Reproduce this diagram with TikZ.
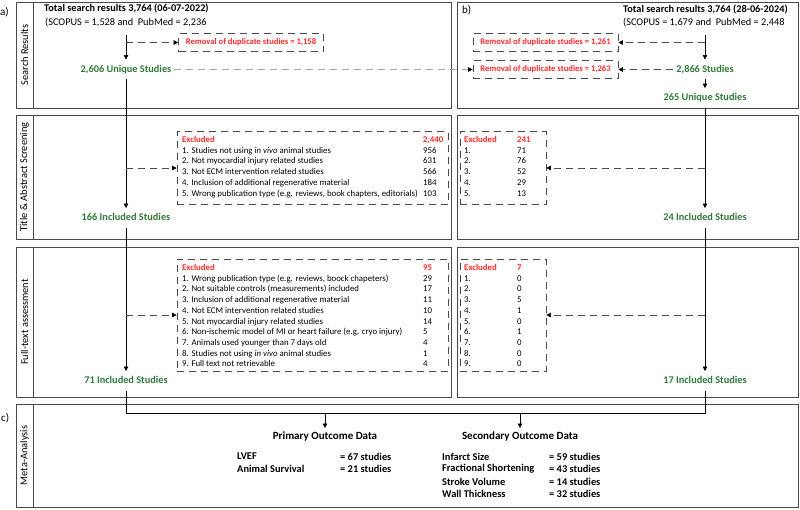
\documentclass[tikz,border=0pt]{standalone}
\usepackage{fontspec}
\setmainfont{Carlito}
\usetikzlibrary{arrows.meta}
\definecolor{grn}{HTML}{2F7A3A}
\definecolor{rd}{HTML}{FF2A2A}
\definecolor{frm}{HTML}{4A4A4A}
\begin{document}
\begin{tikzpicture}[x=1pt,y=-1pt,
 frame/.style={draw=frm, line width=0.8pt},
 lab/.style={rotate=90, font=\fontsize{10.4}{12}\selectfont, inner sep=0pt},
 pl/.style={anchor=west, font=\fontsize{11}{12}\selectfont, inner sep=0pt},
 hd/.style={anchor=west, font=\bfseries\fontsize{10.3}{12}\selectfont, inner sep=0pt},
 sub/.style={anchor=west, font=\fontsize{10.3}{12}\selectfont, inner sep=0pt},
 gn/.style={text=grn, font=\bfseries\fontsize{10.3}{12}\selectfont, text height=7.5pt, text depth=2pt, inner xsep=3pt, inner ysep=5pt},
 dup/.style={draw=frm, dash pattern=on 7pt off 5pt, line width=0.7pt, text=rd, font=\bfseries\fontsize{8.6}{10}\selectfont, minimum width=145pt, minimum height=18pt, inner sep=0pt},
 exbox/.style={draw=frm, dash pattern=on 7pt off 5pt, line width=0.7pt, inner sep=0pt},
 li/.style={anchor=west, font=\fontsize{8.8}{10}\selectfont, text height=6.5pt, text depth=2pt, inner sep=0pt},
 lr/.style={li, text=rd, font=\bfseries\fontsize{8.8}{10}\selectfont},
 conn/.style={-{Triangle[length=4.5pt,width=4.5pt,color=black]}, draw=black, line width=0.6pt},
 dconn/.style={conn, draw=frm, dash pattern=on 7pt off 5pt},
 flow/.style={draw=black, line width=0.6pt},
 ph/.style={font=\bfseries\fontsize{11}{12}\selectfont, text height=7.5pt, text depth=2pt, inner ysep=4pt},
 it/.style={anchor=west, font=\bfseries\fontsize{10.4}{12}\selectfont, inner sep=0pt}
]
\useasboundingbox (0,0) rectangle (800,509);
% frames
\draw[frame] (16,2) rectangle (451,108); \draw[frame] (33,2) -- (33,108);
\draw[frame] (16,115) rectangle (451,239); \draw[frame] (33,115) -- (33,239);
\draw[frame] (16,247) rectangle (451,397); \draw[frame] (33,247) -- (33,397);
\draw[frame] (16,404) rectangle (798,507); \draw[frame] (33,404) -- (33,507);
\draw[frame] (457,2) rectangle (798,108);
\draw[frame] (457,115) rectangle (798,239);
\draw[frame] (457,247) rectangle (798,397);
% row labels
\node[lab] (r1) at (24.5,55) {Search Results};
\node[lab] (r2) at (24.5,177) {Title \& Abstract Screening};
\node[lab] (r3) at (24.5,322) {Full-text assessment};
\node[lab] (r4) at (24.5,455.5) {Meta-Analysis};
\node[pl] (la) at (0,12) {a)};
\node[pl] (lb) at (462,10) {b)};
\node[pl] (lc) at (1,418) {c)};
% ---------- panel a ----------
\node[hd] (t1) at (44,8.5) {Total search results 3,764 (06-07-2022)};
\node[sub] (s1) at (45,22) {(SCOPUS = 1,528 and\ \ PubMed = 2,236};
\coordinate (c1) at (126,35);
\node[gn] (u1) at (126,69.5) {2,606 Unique Studies};
\node[dup] (d1) at (251,42.5) {Removal of duplicate studies = 1,158};
\draw[conn] (c1) -- (u1.north);
\draw[dconn] (c1 |- d1.west) -- (d1.west);
\node[gn] (i1) at (126,218) {166 Included Studies};
\node[exbox, minimum width=271pt, minimum height=73pt] (e1) at (312.5,168) {};
\draw[conn] (u1.south) -- (i1.north);
\draw[dconn] (u1.south |- e1.west) -- (e1.west);
\node[lr] (e1h) at (182,140) {Excluded};
\node[lr] (e1n) at (423,140) {2,440};
\node[li] (e1a) at (182,150.8) {1. Studies not using \textit{in vivo} animal studies};
\node[li] (e1b) at (182,161.6) {2. Not myocardial injury related studies};
\node[li] (e1c) at (182,172.4) {3. Not ECM intervention related studies};
\node[li] (e1d) at (182,183.2) {4. Inclusion of additional regenerative material};
\node[li] (e1e) at (182,194) {5. Wrong publication type (e.g. reviews, book chapters, editorials)};
\node[li] (e1an) at (423,150.8) {956};
\node[li] (e1bn) at (423,161.6) {631};
\node[li] (e1cn) at (423,172.4) {566};
\node[li] (e1dn) at (423,183.2) {184};
\node[li] (e1en) at (423,194) {103};
\node[gn] (i2) at (126,381) {71 Included Studies};
\node[exbox, minimum width=271pt, minimum height=112pt] (e2) at (312.5,315) {};
\draw[conn] (i1.south) -- (i2.north);
\draw[dconn] (i1.south |- e2.west) -- (e2.west);
\node[lr] (e2h) at (182,268.3) {Excluded};
\node[lr] (e2n) at (423,268.3) {95};
\node[li] (e2a) at (182,279) {1. Wrong publication type (e.g. reviews, boock chapeters)};
\node[li] (e2b) at (182,289.7) {2. Not suitable controls (measurements) included};
\node[li] (e2c) at (182,300.4) {3. Inclusion of additional regenerative material};
\node[li] (e2d) at (182,311.1) {4. Not ECM intervention related studies};
\node[li] (e2e) at (182,321.8) {5. Not myocardial injury related studies};
\node[li] (e2f) at (182,332.5) {6. Non-ischemic model of MI or heart failure (e.g. cryo injury)};
\node[li] (e2g) at (182,343.2) {7. Animals used younger than 7 days old};
\node[li] (e2h2) at (182,353.9) {8. Studies not using \textit{in vivo} animal studies};
\node[li] (e2i) at (182,364.6) {9. Full text not retrievable};
\node[li] (e2an) at (423,279) {29};
\node[li] (e2bn) at (423,289.7) {17};
\node[li] (e2cn) at (423,300.4) {11};
\node[li] (e2dn) at (423,311.1) {10};
\node[li] (e2en) at (423,321.8) {14};
\node[li] (e2fn) at (423,332.5) {5};
\node[li] (e2gn) at (423,343.2) {4};
\node[li] (e2hn) at (423,353.9) {1};
\node[li] (e2in) at (423,364.6) {4};
% ---------- panel b ----------
\node[hd] (t2) at (623,9.5) {Total search results 3,764 (28-06-2024)};
\node[sub] (s2) at (623,22) {(SCOPUS = 1,679 and\ \ PubMed = 2,448};
\coordinate (c2) at (705,35);
\node[gn] (n2) at (705,69.5) {2,866 Studies};
\node[dup] (d3) at (545.5,42.5) {Removal of duplicate studies = 1,261};
\node[dup] (d4) at (545.5,69.5) {Removal of duplicate studies = 1,263};
\draw[conn] (c2) -- (n2.north);
\draw[dconn] (c2 |- d3.east) -- (d3.east);
\draw[dconn] (n2.west) -- (d4.east);
\draw[dconn, draw=gray!70] (u1.east) -- (d4.west);
\node[gn] (u2) at (705,98) {265 Unique Studies};
\draw[conn] (n2.south) -- (u2.north);
\node[gn] (i3) at (705,218) {24 Included Studies};
\node[exbox, minimum width=86pt, minimum height=73pt] (e3) at (503,168) {};
\draw[conn] (u2.south) -- (i3.north);
\draw[dconn] (u2.south |- e3.east) -- (e3.east);
\node[lr] (e3h) at (464,140) {Excluded};
\node[lr] (e3n) at (517,140) {241};
\node[li] (e3a) at (464,150.8) {1.};
\node[li] (e3b) at (464,161.6) {2.};
\node[li] (e3c) at (464,172.4) {3.};
\node[li] (e3d) at (464,183.2) {4.};
\node[li] (e3e) at (464,194) {5.};
\node[li] (e3an) at (517,150.8) {71};
\node[li] (e3bn) at (517,161.6) {76};
\node[li] (e3cn) at (517,172.4) {52};
\node[li] (e3dn) at (517,183.2) {29};
\node[li] (e3en) at (517,194) {13};
\node[gn] (i4) at (705,381) {17 Included Studies};
\node[exbox, minimum width=86pt, minimum height=112pt] (e4) at (503,315) {};
\draw[conn] (i3.south) -- (i4.north);
\draw[dconn] (i3.south |- e4.east) -- (e4.east);
\node[lr] (e4h) at (464,268.3) {Excluded};
\node[lr] (e4n) at (517,268.3) {7};
\node[li] (e4a) at (464,279) {1.};
\node[li] (e4b) at (464,289.7) {2.};
\node[li] (e4c) at (464,300.4) {3.};
\node[li] (e4d) at (464,311.1) {4.};
\node[li] (e4e) at (464,321.8) {5.};
\node[li] (e4f) at (464,332.5) {6.};
\node[li] (e4g) at (464,343.2) {7.};
\node[li] (e4h2) at (464,353.9) {8.};
\node[li] (e4i) at (464,364.6) {9.};
\node[li] (e4an) at (517,279) {0};
\node[li] (e4bn) at (517,289.7) {0};
\node[li] (e4cn) at (517,300.4) {5};
\node[li] (e4dn) at (517,311.1) {1};
\node[li] (e4en) at (517,321.8) {0};
\node[li] (e4fn) at (517,332.5) {1};
\node[li] (e4gn) at (517,343.2) {0};
\node[li] (e4hn) at (517,353.9) {0};
\node[li] (e4in) at (517,364.6) {0};
% ---------- panel c ----------
\coordinate (m) at (0,413);
\node[ph] (p1) at (325,437) {Primary Outcome Data};
\node[ph] (p2) at (520,437) {Secondary Outcome Data};
\draw[flow] (i2.south) |- (i4.south |- m) -- (i4.south);
\draw[conn] (p1.north |- m) -- (p1.north);
\draw[conn] (p2.north |- m) -- (p2.north);
\node[it] (q1) at (237,456.5) {LVEF};
\node[it] (q2) at (237,469) {Animal Survival};
\node[it] (q1n) at (340,456.5) {= 67 studies};
\node[it] (q2n) at (340,469) {= 21 studies};
\node[it] (w1) at (442,456.5) {Infarct Size};
\node[it] (w2) at (442,469) {Fractional Shortening};
\node[it] (w3) at (442,481.5) {Stroke Volume};
\node[it] (w4) at (442,494) {Wall Thickness};
\node[it] (w1n) at (549,456.5) {= 59 studies};
\node[it] (w2n) at (549,469) {= 43 studies};
\node[it] (w3n) at (549,481.5) {= 14 studies};
\node[it] (w4n) at (549,494) {= 32 studies};
\end{tikzpicture}
\end{document}
